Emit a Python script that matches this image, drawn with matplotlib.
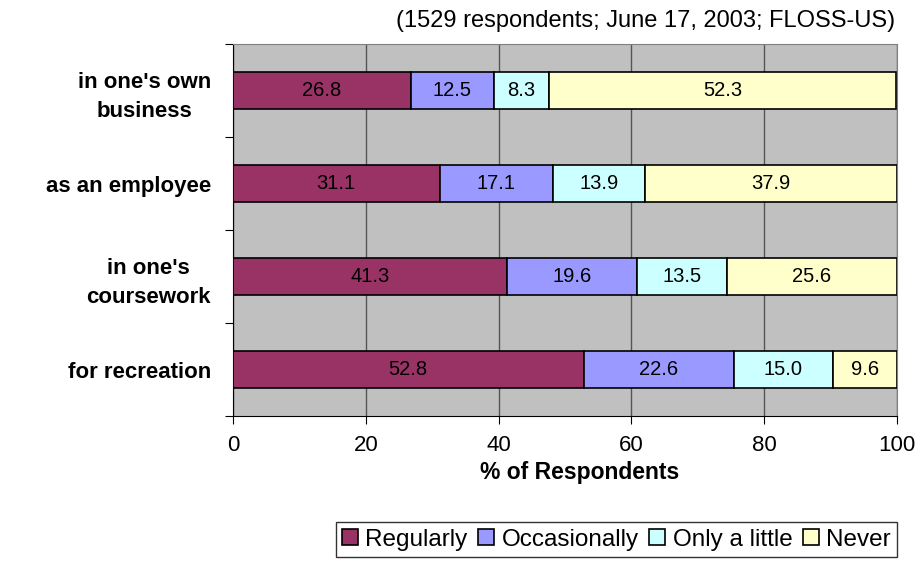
import matplotlib.pyplot as plt
import numpy as np

plt.rcParams["font.family"] = ["Liberation Sans", "DejaVu Sans"]

categories = ["for recreation", "in one's\ncoursework", "as an employee", "in one's own\nbusiness"]
regularly = [52.8, 41.3, 31.1, 26.8]
occasionally = [22.6, 19.6, 17.1, 12.5]
only_little = [15.0, 13.5, 13.9, 8.3]
never = [9.6, 25.6, 37.9, 52.3]

series = [("Regularly", regularly, "#993366"),
          ("Occasionally", occasionally, "#9999FF"),
          ("Only a little", only_little, "#CCFFFF"),
          ("Never", never, "#FFFFCC")]

fig = plt.figure(figsize=(9.22, 5.63), dpi=100)
ax = fig.add_axes([0.2527, 0.2611, 0.7202, 0.6607])
ax.set_facecolor("#C0C0C0")

y = np.arange(len(categories))
left = np.zeros(len(categories))
for name, vals, col in series:
    bars = ax.barh(y, vals, height=0.39, left=left, color=col,
                   edgecolor="black", linewidth=1.2, label=name, zorder=3)
    for b, v in zip(bars, vals):
        ax.text(b.get_x() + b.get_width() / 2, b.get_y() + b.get_height() / 2,
                "%.1f" % v, ha="center", va="center", fontsize=14.5, zorder=4)
    left += np.array(vals)

ax.set_xlim(0, 100)
ax.set_ylim(-0.5, len(categories) - 0.5)
ax.set_xticks([0, 20, 40, 60, 80, 100])
ax.tick_params(axis="x", labelsize=16, length=6, color="black", pad=8)
ax.xaxis.grid(True, color="#555555", linewidth=1, zorder=0)
ax.set_axisbelow(True)

# category ticks sit on boundaries, labels in the middle
ax.set_yticks(np.arange(len(categories) + 1) - 0.5)
ax.set_yticklabels([])
ax.tick_params(axis="y", length=6)
ax.set_yticks(y, minor=True)
ax.set_yticklabels(categories, minor=True, fontsize=16, fontweight="bold",
                   multialignment="center", linespacing=1.5)
ax.tick_params(axis="y", which="minor", length=0, pad=16)

for s in ["top", "right"]:
    ax.spines[s].set_color("#808080")
for s in ["left", "bottom"]:
    ax.spines[s].set_color("black")

ax.set_xlabel("% of Respondents", fontsize=16.5, fontweight="bold", labelpad=3, x=0.522)

fig.text(0.971, 0.962, "(1529 respondents; June 17, 2003; FLOSS-US)",
         ha="right", va="center", fontsize=17)

leg = ax.legend(loc="lower right", bbox_to_anchor=(1.0, -0.378), ncol=4,
                fontsize=17.5, frameon=True, fancybox=False, handlelength=0.65,
                handleheight=0.65, handletextpad=0.3, columnspacing=0.45,
                borderpad=0.25, borderaxespad=0)
leg.get_frame().set_edgecolor("black")
leg.get_frame().set_linewidth(1)

fig.savefig("out.png", dpi=100)
